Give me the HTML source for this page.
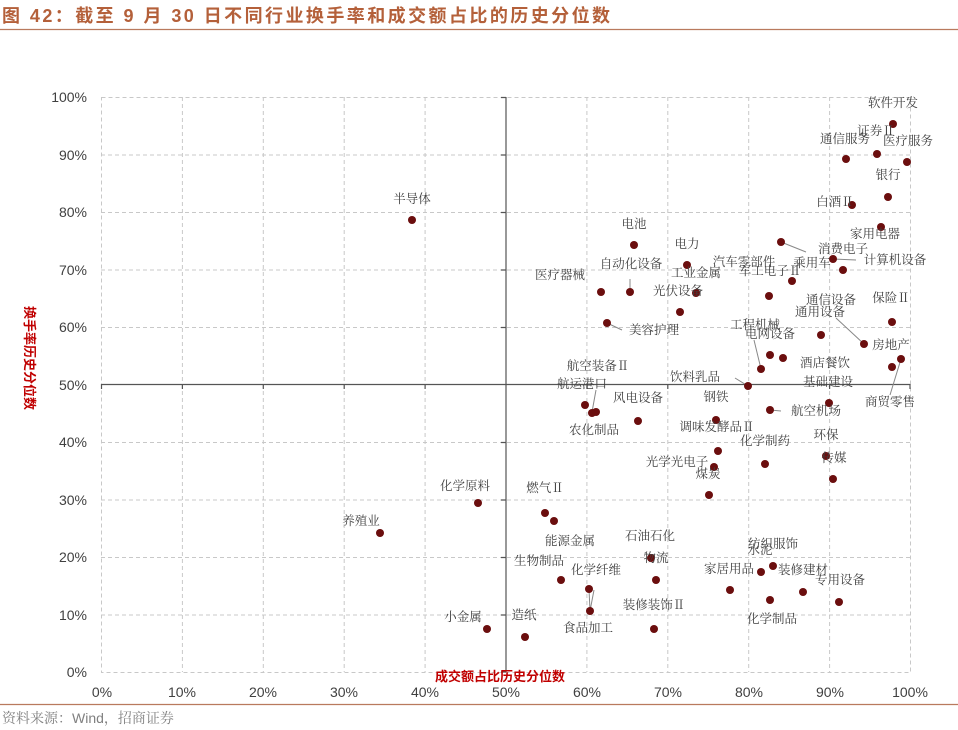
<!DOCTYPE html>
<html><head><meta charset="utf-8"><style>
body{margin:0;background:#fff;}
svg{display:block;}
.l{font-family:"Noto Serif CJK SC","Liberation Serif",serif;font-size:12.5px;fill:#404040;text-anchor:middle;}
.t{font-family:"Liberation Sans",sans-serif;font-size:14px;fill:#404040;}
</style></head><body>
<svg width="958" height="730" viewBox="0 0 958 730" xmlns="http://www.w3.org/2000/svg">
<text x="2" y="22" textLength="608" lengthAdjust="spacing" style="font-family:'Liberation Sans','Noto Sans CJK SC',sans-serif;font-size:18px;font-weight:bold;fill:#b4603a">图 42：截至 9 月 30 日不同行业换手率和成交额占比的历史分位数</text>
<line x1="0" y1="29.5" x2="958" y2="29.5" stroke="#b97a5e" stroke-width="1.2"/>
<line x1="0" y1="704.5" x2="958" y2="704.5" stroke="#b97a5e" stroke-width="1.2"/>
<text x="2" y="723" style="font-family:'Liberation Sans','Noto Serif CJK SC',sans-serif;font-size:14px;fill:#808080">资料来源：Wind，招商证券</text>
<g stroke="#c8c8c8" stroke-dasharray="4,3" stroke-width="1" fill="none">
<rect x="101.5" y="97.5" width="809" height="575"/>
<line x1="182.4" y1="97" x2="182.4" y2="672"/><line x1="263.3" y1="97" x2="263.3" y2="672"/><line x1="344.2" y1="97" x2="344.2" y2="672"/><line x1="425.1" y1="97" x2="425.1" y2="672"/><line x1="586.9" y1="97" x2="586.9" y2="672"/><line x1="667.8" y1="97" x2="667.8" y2="672"/><line x1="748.7" y1="97" x2="748.7" y2="672"/><line x1="829.6" y1="97" x2="829.6" y2="672"/>
<line x1="101" y1="155" x2="910" y2="155"/><line x1="101" y1="212.5" x2="910" y2="212.5"/><line x1="101" y1="270" x2="910" y2="270"/><line x1="101" y1="327.5" x2="910" y2="327.5"/><line x1="101" y1="442.5" x2="910" y2="442.5"/><line x1="101" y1="500" x2="910" y2="500"/><line x1="101" y1="557.5" x2="910" y2="557.5"/><line x1="101" y1="615" x2="910" y2="615"/>
</g>
<g stroke="#555" stroke-width="1.2">
<line x1="506" y1="97" x2="506" y2="672"/><line x1="101" y1="384.5" x2="910" y2="384.5"/>
<path d="M501 97.5h5M501 155h5M501 212.5h5M501 270h5M501 327.5h5M501 442.5h5M501 500h5M501 557.5h5M501 615h5M501 672h5M101.5 384v5M182.4 384v5M263.3 384v5M344.2 384v5M425.1 384v5M586.9 384v5M667.8 384v5M748.7 384v5M829.6 384v5M910 384v5"/>
</g>
<g class="t" text-anchor="end">
<text x="87" y="102">100%</text><text x="87" y="160">90%</text><text x="87" y="217">80%</text><text x="87" y="275">70%</text><text x="87" y="332">60%</text><text x="87" y="390">50%</text><text x="87" y="447">40%</text><text x="87" y="505">30%</text><text x="87" y="562">20%</text><text x="87" y="620">10%</text><text x="87" y="677">0%</text>
</g>
<g class="t" text-anchor="middle">
<text x="102" y="697">0%</text><text x="182" y="697">10%</text><text x="263" y="697">20%</text><text x="344" y="697">30%</text><text x="425" y="697">40%</text><text x="506" y="697">50%</text><text x="587" y="697">60%</text><text x="668" y="697">70%</text><text x="749" y="697">80%</text><text x="830" y="697">90%</text><text x="910" y="697">100%</text>
</g>
<text x="500" y="681" text-anchor="middle" style="font-family:'Noto Sans CJK SC',sans-serif;font-size:13px;font-weight:bold;fill:#c00000">成交额占比历史分位数</text>
<text transform="translate(25,358) rotate(90)" text-anchor="middle" style="font-family:'Noto Sans CJK SC',sans-serif;font-size:13px;font-weight:bold;fill:#c00000">换手率历史分位数</text>
<g stroke="#888" stroke-width="1" fill="none">
<path d="M781 242L806 252M833 259L856 260M630 292V279M607 323L622 330M836 318L864 344M761 369L754 340M748 386L735 378M901 359L890 395M592 412L596 390M770 410L781 411M589 589L590 611L594 590"/>
</g>
<g fill="#6b0e0e">
<circle cx="893" cy="124" r="4"/><circle cx="877" cy="154" r="4"/><circle cx="846" cy="159" r="4"/><circle cx="907" cy="162" r="4"/><circle cx="888" cy="197" r="4"/><circle cx="852" cy="205" r="4"/><circle cx="881" cy="227" r="4"/><circle cx="781" cy="242" r="4"/><circle cx="833" cy="259" r="4"/><circle cx="843" cy="270" r="4"/>
<circle cx="634" cy="245" r="4"/><circle cx="687" cy="265" r="4"/><circle cx="630" cy="292" r="4"/><circle cx="601" cy="292" r="4"/><circle cx="696" cy="293" r="4"/><circle cx="680" cy="312" r="4"/><circle cx="792" cy="281" r="4"/><circle cx="769" cy="296" r="4"/><circle cx="607" cy="323" r="4"/><circle cx="892" cy="322" r="4"/><circle cx="864" cy="344" r="4"/><circle cx="821" cy="335" r="4"/>
<circle cx="770" cy="355" r="4"/><circle cx="783" cy="358" r="4"/><circle cx="761" cy="369" r="4"/><circle cx="892" cy="367" r="4"/><circle cx="901" cy="359" r="4"/><circle cx="748" cy="386" r="4"/>
<circle cx="585" cy="405" r="4"/><circle cx="592" cy="413" r="4"/><circle cx="596" cy="412" r="4"/><circle cx="638" cy="421" r="4"/><circle cx="716" cy="420" r="4"/><circle cx="770" cy="410" r="4"/><circle cx="829" cy="403" r="4"/>
<circle cx="765" cy="464" r="4"/><circle cx="826" cy="456" r="4"/><circle cx="833" cy="479" r="4"/><circle cx="718" cy="451" r="4"/><circle cx="714" cy="467" r="4"/><circle cx="709" cy="495" r="4"/>
<circle cx="545" cy="513" r="4"/><circle cx="554" cy="521" r="4"/><circle cx="651" cy="558" r="4"/><circle cx="656" cy="580" r="4"/><circle cx="773" cy="566" r="4"/><circle cx="761" cy="572" r="4"/><circle cx="803" cy="592" r="4"/><circle cx="839" cy="602" r="4"/><circle cx="730" cy="590" r="4"/><circle cx="770" cy="600" r="4"/>
<circle cx="561" cy="580" r="4"/><circle cx="589" cy="589" r="4"/><circle cx="590" cy="611" r="4"/><circle cx="654" cy="629" r="4"/><circle cx="525" cy="637" r="4"/><circle cx="487" cy="629" r="4"/>
<circle cx="412" cy="220" r="4"/><circle cx="478" cy="503" r="4"/><circle cx="380" cy="533" r="4"/>
</g>
<g class="l">
<text x="893" y="107">软件开发</text><text x="876" y="135">证券Ⅱ</text><text x="845" y="143">通信服务</text><text x="908" y="145">医疗服务</text><text x="888" y="179">银行</text><text x="835" y="206">白酒Ⅱ</text><text x="875" y="238">家用电器</text><text x="843" y="253">消费电子</text><text x="895" y="264">计算机设备</text>
<text x="634" y="228">电池</text><text x="687" y="248">电力</text><text x="631" y="268">自动化设备</text><text x="560" y="279">医疗器械</text><text x="696" y="277">工业金属</text><text x="678" y="295">光伏设备</text><text x="744" y="266">汽车零部件</text><text x="812" y="267">乘用车</text><text x="770" y="275">军工电子Ⅱ</text><text x="654" y="334">美容护理</text>
<text x="831" y="304">通信设备</text><text x="820" y="316">通用设备</text><text x="891" y="302">保险Ⅱ</text><text x="891" y="349">房地产</text><text x="755" y="329">工程机械</text><text x="770" y="338">电网设备</text><text x="825" y="367">酒店餐饮</text><text x="828" y="386">基础建设</text><text x="890" y="406">商贸零售</text><text x="695" y="381">饮料乳品</text>
<text x="598" y="370">航空装备Ⅱ</text><text x="582" y="388">航运港口</text><text x="638" y="402">风电设备</text><text x="716" y="401">钢铁</text><text x="816" y="415">航空机场</text><text x="594" y="434">农化制品</text><text x="717" y="431">调味发酵品Ⅱ</text><text x="765" y="445">化学制药</text><text x="826" y="439">环保</text><text x="834" y="462">传媒</text><text x="677" y="466">光学光电子</text><text x="708" y="478">煤炭</text>
<text x="545" y="492">燃气Ⅱ</text><text x="570" y="545">能源金属</text><text x="650" y="540">石油石化</text><text x="656" y="562">物流</text><text x="773" y="548">纺织服饰</text><text x="760" y="554">水泥</text><text x="803" y="574">装修建材</text><text x="840" y="584">专用设备</text><text x="729" y="573">家居用品</text><text x="772" y="623">化学制品</text>
<text x="539" y="565">生物制品</text><text x="596" y="574">化学纤维</text><text x="654" y="609">装修装饰Ⅱ</text><text x="524" y="619">造纸</text><text x="588" y="632">食品加工</text><text x="463" y="621">小金属</text>
<text x="412" y="203">半导体</text><text x="465" y="490">化学原料</text><text x="361" y="525">养殖业</text>
</g>
</svg>
</body></html>
